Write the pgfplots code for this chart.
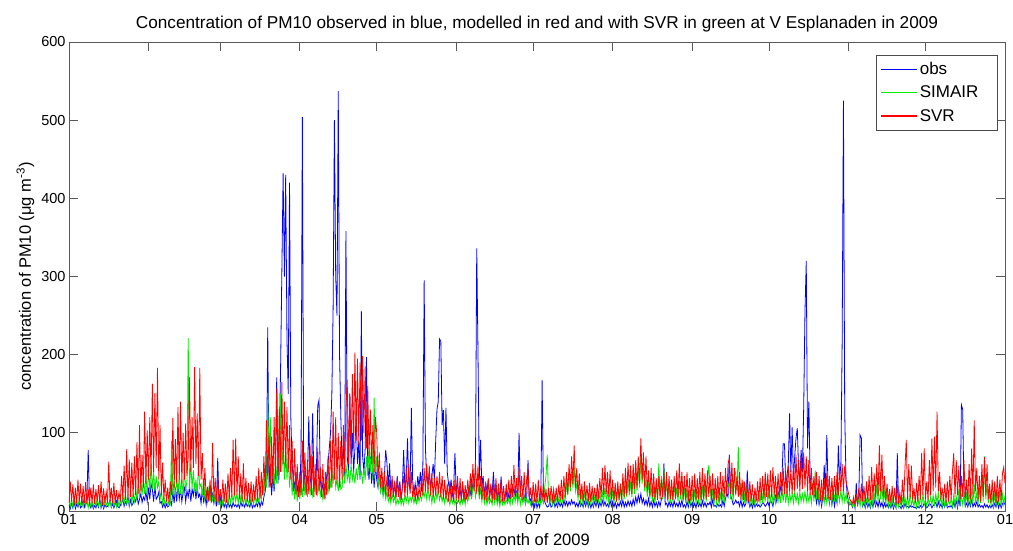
\documentclass[border=0pt]{standalone}
\usepackage{fontspec}
\setmainfont{Liberation Sans}
\usepackage{pgfplots}
\usepackage{pgfplotstable}
\pgfplotsset{compat=1.18}

\definecolor{obsblue}{RGB}{0,0,255}
\definecolor{simgreen}{RGB}{0,235,0}
\definecolor{svrred}{RGB}{255,0,0}

% PM10 at V Esplanaden 2009, sampled twice a day:
% o = observed, g = SIMAIR model, r = SVR model
\pgfplotstableread[row sep=\\]{
o g r\\
8 12 10\\ 3 6 38\\ 10 15 12\\ 4 5 34\\ 12 18 8\\ 3 7 30\\ 9 14 10\\ 5 6 40\\ 11 16 12\\ 4 8 35\\
6 12 8\\ 14 5 32\\ 5 15 10\\ 10 6 37\\ 20 12 9\\ 78 4 28\\ 8 14 7\\ 4 6 30\\ 9 12 10\\ 3 5 34\\
7 14 9\\ 4 6 28\\ 10 17 12\\ 5 7 33\\ 15 12 10\\ 4 5 38\\ 10 18 8\\ 3 6 29\\ 8 15 11\\ 5 7 25\\
6 12 10\\ 9 6 63\\ 14 14 12\\ 5 5 30\\ 9 16 10\\ 4 6 36\\ 8 12 9\\ 13 5 27\\ 6 15 12\\ 4 6 24\\
7 14 12\\ 11 8 45\\ 15 20 15\\ 6 10 58\\ 12 22 14\\ 8 10 79\\ 18 15 15\\ 6 8 66\\ 14 28 18\\ 7 10 62\\
10 22 18\\ 16 12 70\\ 12 30 20\\ 20 15 88\\ 9 35 22\\ 15 18 110\\ 22 40 25\\ 11 20 72\\ 18 42 30\\ 14 22 127\\
25 45 35\\ 12 20 103\\ 30 55 40\\ 15 25 120\\ 35 60 45\\ 28 28 163\\ 12 50 50\\ 32 25 151\\ 15 45 55\\ 18 30 183\\
24 38 40\\ 10 15 110\\ 12 25 20\\ 5 10 62\\ 10 18 15\\ 4 8 40\\ 9 15 12\\ 5 7 30\\ 7 12 10\\ 14 8 38\\
8 90 20\\ 25 20 119\\ 10 38 30\\ 30 18 92\\ 12 42 35\\ 35 20 133\\ 15 48 40\\ 28 22 140\\ 12 40 35\\ 24 20 100\\
30 55 40\\ 12 25 112\\ 26 40 45\\ 18 221 70\\ 32 28 171\\ 12 60 50\\ 28 30 120\\ 20 52 55\\ 35 25 184\\ 15 40 60\\
30 22 125\\ 18 60 45\\ 22 30 183\\ 10 35 40\\ 28 20 74\\ 12 40 20\\ 20 15 55\\ 8 25 15\\ 25 12 31\\ 15 28 12\\
30 12 40\\ 15 30 10\\ 22 14 87\\ 10 20 15\\ 20 10 42\\ 6 24 12\\ 68 10 45\\ 8 15 10\\ 18 8 28\\ 5 18 10\\
12 8 40\\ 5 20 12\\ 10 10 35\\ 4 18 10\\ 12 8 48\\ 5 22 15\\ 9 10 55\\ 4 20 18\\ 11 12 91\\ 6 24 20\\
8 12 93\\ 5 22 20\\ 9 10 70\\ 4 24 15\\ 12 12 48\\ 6 20 12\\ 10 8 61\\ 5 18 15\\ 11 10 42\\ 6 16 12\\
9 8 36\\ 5 18 10\\ 12 10 38\\ 4 20 12\\ 8 8 34\\ 5 22 14\\ 10 10 45\\ 6 18 12\\ 14 12 55\\ 5 25 15\\
12 15 50\\ 8 40 20\\ 18 20 70\\ 25 55 25\\ 40 30 116\\ 235 151 40\\ 30 60 100\\ 60 120 30\\ 20 40 95\\ 45 70 35\\
25 30 120\\ 50 60 40\\ 171 35 157\\ 35 100 45\\ 90 40 130\\ 180 150 50\\ 305 50 165\\ 432 90 60\\ 300 40 140\\ 430 80 55\\
220 40 133\\ 150 70 50\\ 420 30 110\\ 120 60 40\\ 60 20 90\\ 40 45 25\\ 30 15 80\\ 50 35 20\\ 25 12 60\\ 35 30 18\\
20 15 50\\ 80 35 20\\ 504 18 90\\ 60 45 25\\ 35 20 75\\ 25 38 20\\ 40 18 65\\ 121 40 22\\ 45 22 85\\ 30 35 20\\
125 20 70\\ 40 35 18\\ 30 25 60\\ 55 40 20\\ 135 22 80\\ 142 35 25\\ 40 20 55\\ 25 30 18\\ 35 15 60\\ 20 30 15\\
30 18 50\\ 45 35 20\\ 60 22 70\\ 80 45 25\\ 100 30 90\\ 150 55 30\\ 260 35 127\\ 500 60 40\\ 300 30 120\\ 250 40 35\\
537 25 100\\ 200 45 30\\ 120 28 90\\ 60 30 40\\ 80 55 110\\ 45 35 50\\ 358 60 130\\ 70 40 168\\ 50 50 60\\ 150 35 150\\
60 60 70\\ 100 40 175\\ 50 50 80\\ 80 35 203\\ 130 55 90\\ 60 40 195\\ 90 60 85\\ 40 45 190\\ 256 50 90\\ 70 35 198\\
50 55 100\\ 80 40 185\\ 197 70 80\\ 60 45 160\\ 40 80 70\\ 70 50 130\\ 35 90 60\\ 55 40 110\\ 30 145 50\\ 60 50 120\\
40 70 100\\ 30 30 40\\ 50 50 75\\ 25 25 30\\ 35 35 55\\ 20 18 25\\ 45 30 50\\ 78 15 20\\ 61 25 45\\ 30 12 18\\
61 20 40\\ 25 10 15\\ 40 22 45\\ 20 12 18\\ 35 18 38\\ 18 8 15\\ 45 15 42\\ 22 10 18\\ 38 20 35\\ 15 8 14\\
30 15 30\\ 78 8 45\\ 25 20 18\\ 40 12 55\\ 93 22 20\\ 35 10 60\\ 28 18 22\\ 132 12 50\\ 40 20 18\\ 22 10 30\\
35 18 14\\ 20 10 28\\ 45 22 15\\ 30 12 30\\ 50 20 18\\ 25 14 45\\ 60 25 20\\ 295 18 55\\ 80 28 25\\ 40 15 61\\
35 30 25\\ 50 15 58\\ 30 25 20\\ 45 10 48\\ 60 22 18\\ 40 12 42\\ 90 25 20\\ 130 15 45\\ 140 28 22\\ 220 14 50\\
217 22 18\\ 110 12 45\\ 129 20 15\\ 60 10 40\\ 132 22 15\\ 50 12 35\\ 35 18 12\\ 25 8 38\\ 40 16 14\\ 20 10 32\\
30 18 12\\ 74 8 40\\ 25 16 14\\ 35 10 45\\ 18 14 12\\ 28 8 42\\ 15 18 14\\ 32 10 38\\ 20 20 12\\ 12 8 33\\
25 22 15\\ 18 12 40\\ 30 20 18\\ 22 35 48\\ 40 15 20\\ 28 30 60\\ 35 40 25\\ 50 18 65\\ 336 30 22\\ 200 35 58\\
40 15 20\\ 91 30 45\\ 30 12 15\\ 45 25 40\\ 20 10 14\\ 35 20 36\\ 25 8 12\\ 40 18 42\\ 18 10 14\\ 30 15 35\\
22 8 12\\ 50 22 38\\ 20 10 14\\ 30 20 42\\ 15 8 12\\ 25 18 35\\ 18 6 10\\ 44 16 40\\ 20 8 12\\ 12 15 32\\
18 8 12\\ 25 14 35\\ 12 10 14\\ 22 16 40\\ 15 8 15\\ 28 22 45\\ 20 10 18\\ 30 20 59\\ 18 12 20\\ 25 22 42\\
20 10 15\\ 100 22 55\\ 25 8 18\\ 15 20 45\\ 12 10 14\\ 20 18 50\\ 10 8 16\\ 18 16 42\\ 65 10 55\\ 12 15 14\\
15 8 30\\ 6 14 10\\ 12 10 37\\ 5 16 12\\ 14 8 35\\ 4 15 10\\ 10 10 40\\ 5 20 12\\ 18 8 32\\ 167 16 14\\
20 10 35\\ 12 30 12\\ 8 45 28\\ 5 72 10\\ 6 20 30\\ 12 10 12\\ 5 18 32\\ 7 8 14\\ 14 20 28\\ 5 10 12\\
10 18 30\\ 5 8 12\\ 12 16 34\\ 6 10 14\\ 10 20 40\\ 5 12 15\\ 14 22 45\\ 7 14 18\\ 12 35 50\\ 6 20 22\\
12 45 60\\ 8 25 30\\ 14 50 70\\ 9 30 35\\ 12 55 84\\ 6 25 30\\ 10 35 55\\ 5 15 20\\ 12 28 48\\ 6 10 15\\
10 22 35\\ 5 8 12\\ 12 25 38\\ 6 10 14\\ 14 16 33\\ 5 8 12\\ 11 22 36\\ 4 10 12\\ 10 20 32\\ 5 8 14\\
12 18 30\\ 6 10 12\\ 14 20 35\\ 5 12 15\\ 11 22 42\\ 6 10 18\\ 13 24 55\\ 7 12 20\\ 12 30 59\\ 6 15 22\\
9 24 50\\ 5 10 18\\ 14 28 52\\ 6 12 15\\ 12 25 40\\ 5 10 14\\ 11 28 36\\ 4 12 12\\ 10 30 38\\ 6 14 14\\
12 28 35\\ 6 12 15\\ 14 35 48\\ 5 15 18\\ 11 38 55\\ 6 18 20\\ 13 40 62\\ 7 20 25\\ 12 38 58\\ 6 18 22\\
15 45 60\\ 8 22 28\\ 18 48 65\\ 10 25 30\\ 20 55 70\\ 12 30 35\\ 22 72 93\\ 10 35 40\\ 16 55 75\\ 8 25 30\\
14 40 70\\ 7 18 25\\ 16 38 52\\ 6 15 20\\ 12 32 55\\ 5 12 18\\ 14 30 48\\ 6 10 15\\ 11 35 42\\ 5 15 14\\
12 61 45\\ 6 20 15\\ 15 45 40\\ 20 15 18\\ 61 55 48\\ 8 18 16\\ 10 40 50\\ 5 12 14\\ 12 35 45\\ 6 10 15\\
11 32 40\\ 5 12 14\\ 13 35 45\\ 6 15 16\\ 10 30 52\\ 5 12 18\\ 12 38 61\\ 6 15 20\\ 14 32 50\\ 5 12 15\\
8 30 45\\ 4 10 14\\ 12 28 50\\ 5 8 12\\ 14 26 42\\ 6 10 14\\ 11 24 45\\ 5 8 12\\ 10 28 48\\ 4 10 14\\
12 26 42\\ 6 8 15\\ 10 30 50\\ 5 10 14\\ 13 32 55\\ 6 12 16\\ 11 35 48\\ 5 12 15\\ 10 40 52\\ 8 59 18\\
12 30 45\\ 5 10 14\\ 14 28 48\\ 6 8 12\\ 7 26 42\\ 5 10 14\\ 9 25 45\\ 6 8 12\\ 8 22 50\\ 5 10 15\\
14 25 45\\ 6 10 18\\ 16 28 55\\ 22 35 20\\ 18 30 60\\ 72 38 68\\ 20 15 22\\ 15 40 62\\ 8 12 20\\ 10 45 55\\
14 50 20\\ 10 25 45\\ 12 82 18\\ 6 20 50\\ 14 35 15\\ 5 12 40\\ 11 38 14\\ 6 10 38\\ 10 32 12\\ 52 12 35\\
12 22 12\\ 5 8 38\\ 10 20 12\\ 4 10 34\\ 11 18 10\\ 5 8 30\\ 9 20 12\\ 6 10 38\\ 8 22 12\\ 5 10 42\\
7 30 14\\ 11 10 45\\ 9 32 15\\ 6 12 50\\ 8 35 18\\ 12 12 48\\ 6 26 16\\ 14 10 52\\ 11 28 18\\ 6 10 56\\
15 22 20\\ 20 10 45\\ 12 24 15\\ 25 12 48\\ 18 26 18\\ 30 10 50\\ 40 28 20\\ 86 12 55\\ 86 30 22\\ 35 10 50\\
45 26 20\\ 60 10 58\\ 125 24 25\\ 50 12 52\\ 107 22 22\\ 40 10 60\\ 70 25 25\\ 93 12 72\\ 106 22 28\\ 55 10 65\\
40 24 25\\ 78 12 70\\ 50 22 28\\ 132 12 75\\ 255 25 30\\ 320 12 70\\ 80 24 25\\ 140 12 65\\ 45 22 20\\ 30 10 55\\
25 35 20\\ 18 12 45\\ 22 52 18\\ 10 15 50\\ 20 30 15\\ 8 10 45\\ 18 28 14\\ 6 12 40\\ 20 26 12\\ 59 10 42\\
25 24 14\\ 97 10 48\\ 30 22 15\\ 10 12 45\\ 22 20 14\\ 8 10 42\\ 20 30 15\\ 6 12 45\\ 18 28 18\\ 10 10 50\\
84 25 20\\ 40 12 55\\ 60 26 25\\ 215 12 60\\ 525 28 25\\ 125 12 58\\ 40 22 40\\ 20 10 30\\ 12 14 22\\ 8 8 15\\
10 12 12\\ 5 6 10\\ 12 10 18\\ 4 5 8\\ 36 18 20\\ 6 8 10\\ 20 16 30\\ 97 6 12\\ 93 18 35\\ 6 8 12\\
10 16 32\\ 4 6 10\\ 12 15 38\\ 5 8 12\\ 10 18 45\\ 4 6 14\\ 12 20 56\\ 5 8 15\\ 14 22 48\\ 6 10 18\\
12 35 60\\ 5 12 20\\ 14 45 84\\ 6 15 25\\ 11 32 72\\ 4 10 18\\ 10 25 45\\ 5 8 14\\ 9 26 35\\ 4 6 12\\
8 15 28\\ 4 5 10\\ 10 18 32\\ 3 6 10\\ 9 10 30\\ 4 5 8\\ 74 12 35\\ 6 5 10\\ 6 14 24\\ 3 6 8\\
7 16 40\\ 4 5 12\\ 10 18 55\\ 5 6 91\\ 6 20 15\\ 4 6 60\\ 7 22 18\\ 5 8 58\\ 6 14 14\\ 4 6 30\\
5 15 10\\ 3 5 36\\ 6 18 12\\ 4 6 45\\ 7 20 15\\ 4 6 74\\ 6 22 20\\ 10 8 80\\ 7 14 15\\ 4 6 38\\
6 16 14\\ 10 8 65\\ 8 18 20\\ 4 8 93\\ 7 20 25\\ 9 8 95\\ 11 22 30\\ 5 10 127\\ 12 24 25\\ 5 8 50\\
9 18 15\\ 4 6 30\\ 10 20 12\\ 5 6 35\\ 12 12 10\\ 4 6 38\\ 6 14 12\\ 5 8 45\\ 7 16 15\\ 4 6 50\\
12 20 74\\ 5 8 18\\ 14 18 65\\ 4 8 20\\ 16 28 58\\ 6 10 15\\ 136 20 45\\ 130 8 18\\ 25 22 65\\ 6 8 15\\
10 22 40\\ 5 8 12\\ 12 24 60\\ 6 10 15\\ 14 26 80\\ 5 10 20\\ 10 35 116\\ 6 10 25\\ 12 24 55\\ 5 8 15\\
8 30 45\\ 5 10 12\\ 7 45 60\\ 4 12 18\\ 9 70 69\\ 5 15 20\\ 8 35 60\\ 4 10 15\\ 7 25 35\\ 4 8 10\\
8 20 40\\ 4 6 12\\ 10 22 38\\ 5 6 10\\ 12 24 45\\ 4 8 12\\ 10 26 40\\ 4 6 14\\ 9 22 48\\ 12 8 56\\
8 20 35\\
}\pmdata

\begin{document}
\begin{tikzpicture}
\begin{axis}[
  scale only axis,
  width=936pt, height=469pt,
  xmin=0, xmax=365, ymin=0, ymax=600,
  xtick={0,31,59,90,120,151,181,212,243,273,304,334,365},
  xticklabels={01,02,03,04,05,06,07,08,09,10,11,12,01},
  ytick={0,100,...,600},
  tick pos=both, xticklabel pos=lower, yticklabel pos=left,
  tick align=inside,
  major tick length=9pt,
  axis line style={black!65, line width=0.8pt},
  tick style={black!65, line width=0.8pt},
  /pgf/number format/assume math mode=true,
  ticklabel style={font=\fontsize{14.5}{17}\selectfont},
  title={Concentration of PM10 observed in blue, modelled in red and with SVR in green at V Esplanaden in 2009},
  title style={font=\fontsize{17.2}{20}\selectfont},
  xlabel={month of 2009},
  ylabel={concentration of PM10 (μg m\textsuperscript{-3})},
  label style={font=\fontsize{16.5}{19}\selectfont},
  xlabel style={yshift=-2pt},
  legend style={at={(1,1)}, anchor=north east, xshift=-8pt, yshift=-13pt,
    draw=black!70, font=\fontsize{17}{20}\selectfont,
    legend cell align=left, row sep=6pt, inner xsep=4pt, inner ysep=5pt},
  legend image code/.code={\draw[#1, line width=1.2pt] (0pt,0pt) -- (36pt,0pt);},
]
\addplot[draw=obsblue, line width=0.8pt] table[x expr=\coordindex/2, y=o] {\pmdata};
\addlegendentry{obs}
\addplot[draw=simgreen, line width=0.8pt] table[x expr=\coordindex/2, y=g] {\pmdata};
\addlegendentry{\makebox[71pt][l]{SIMAIR}}
\addplot[draw=svrred, line width=0.8pt] table[x expr=\coordindex/2, y=r] {\pmdata};
\addlegendentry{SVR}
\end{axis}
\pgfresetboundingbox
\path[use as bounding box] (-69pt,-40pt) rectangle (944pt,511pt);
\end{tikzpicture}
\end{document}
